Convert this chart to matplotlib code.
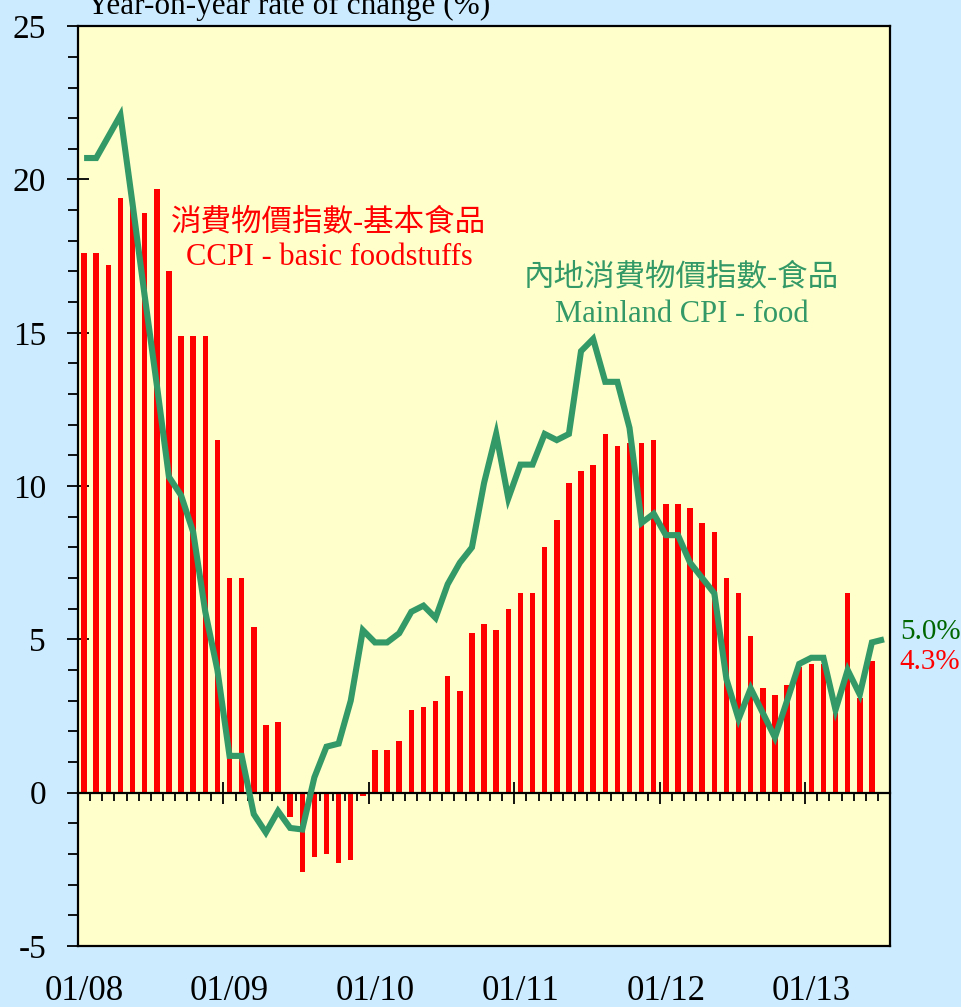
import numpy as np
import matplotlib
matplotlib.use("Agg")
import matplotlib.pyplot as plt
from matplotlib.ticker import MultipleLocator, FixedLocator

plt.rcParams['font.family'] = ['Liberation Serif', 'Noto Sans CJK TC']
plt.rcParams['axes.unicode_minus'] = False

# monthly data, Jan 2008 onwards
ccpi_food = [17.6, 17.6, 17.2, 19.4, 19.2, 18.9, 19.7, 17.0, 14.9, 14.9, 14.9, 11.5,
             7.0, 7.0, 5.4, 2.2, 2.3, -0.8, -2.6, -2.1, -2.0, -2.3, -2.2, -0.1,
             1.4, 1.4, 1.7, 2.7, 2.8, 3.0, 3.8, 3.3, 5.2, 5.5, 5.3, 6.0,
             6.5, 6.5, 8.0, 8.9, 10.1, 10.5, 10.7, 11.7, 11.3, 11.4, 11.4, 11.5,
             9.4, 9.4, 9.3, 8.8, 8.5, 7.0, 6.5, 5.1, 3.4, 3.2, 3.5, 4.1,
             4.2, 4.2, 2.6, 6.5, 3.1, 4.3]
mainland_food = [20.7, 20.7, 21.4, 22.1, 19.2, 16.2, 13.3, 10.3, 9.7, 8.5, 5.9, 4.0,
                 1.2, 1.2, -0.7, -1.3, -0.6, -1.15, -1.2, 0.5, 1.5, 1.6, 3.0, 5.3,
                 4.9, 4.9, 5.2, 5.9, 6.1, 5.7, 6.8, 7.5, 8.0, 10.1, 11.7, 9.6,
                 10.7, 10.7, 11.7, 11.5, 11.7, 14.4, 14.8, 13.4, 13.4, 11.9, 8.8, 9.1,
                 8.4, 8.4, 7.5, 7.0, 6.5, 3.7, 2.4, 3.4, 2.6, 1.8, 3.0, 4.2,
                 4.4, 4.4, 2.7, 4.0, 3.2, 4.9, 5.0]
year_labels = ['01/08', '01/09', '01/10', '01/11', '01/12', '01/13']

bg_fig = '#CCEBFF'
bg_ax = '#FFFFCC'
red = '#FF0000'
green = '#339966'

fig = plt.figure(figsize=(9.61, 10.07), dpi=100, facecolor=bg_fig)
ax = fig.add_axes([0.0812, 0.0606, 0.8450, 0.9134])
ax.set_facecolor(bg_ax)

x_bar = np.arange(len(ccpi_food))
x_line = np.arange(len(mainland_food))
ax.bar(x_bar, ccpi_food, width=0.45, color=red, zorder=2)
ax.plot(x_line, mainland_food, color=green, lw=4.4, zorder=4,
        solid_joinstyle='miter', solid_capstyle='butt')

ax.set_xlim(-0.5, 66.5)
ax.set_ylim(-5, 25)

# y axis
ax.yaxis.set_major_locator(MultipleLocator(5))
ax.yaxis.set_minor_locator(MultipleLocator(1))
ax.tick_params(axis='y', which='major', direction='inout', length=16, width=1.3,
               labelsize=24, pad=15)
ax.tick_params(axis='y', which='minor', direction='out', length=7.5, width=1.3)
ax.tick_params(axis='y', which='both', right=False)

# x labels at the bottom of the frame, no ticks there
ax.set_xticks(np.arange(0, 61, 12), labels=year_labels)
ax.tick_params(axis='x', which='both', length=0, labelsize=25, pad=21)
ax.xaxis.set_minor_locator(FixedLocator([]))

for s in ax.spines.values():
    s.set_linewidth(1.6)

# tick marks drawn on the zero line
sec = ax.secondary_xaxis(5 / 30)
sec.set_xticks(np.arange(11.5, 66, 12))
sec.xaxis.set_minor_locator(FixedLocator(np.arange(0.5, 66, 1)))
sec.tick_params(axis='x', which='major', direction='inout', length=16, width=1.3,
                labelbottom=False)
sec.tick_params(axis='x', which='minor', direction='out', length=5.5, width=1.3)
sec.spines['bottom'].set_linewidth(1.6)
sec.set_zorder(3)

fig.text(0.0905, 0.9865, 'Year-on-year rate of change (%)', fontsize=22.5,
         va='baseline', ha='left')

ax.text(20.2, 18.6, '消費物價指數-基本食品', color=red, fontsize=22,
        ha='center', va='center')
ax.text(20.2, 17.45, 'CCPI - basic foodstuffs', color=red, fontsize=22,
        ha='center', va='center')
ax.text(49.3, 16.8, '內地消費物價指數-食品', color=green, fontsize=22,
        ha='center', va='center')
ax.text(49.3, 15.6, 'Mainland CPI - food', color=green, fontsize=22,
        ha='center', va='center')

ax.text(67.3, 5.25, f'{mainland_food[-1]:.1f}%', color='#006600', fontsize=21,
        ha='left', va='center', clip_on=False)
ax.text(67.3, 4.25, f'{ccpi_food[-1]:.1f}%', color=red, fontsize=21,
        ha='left', va='center', clip_on=False)

fig.savefig('out.png', dpi=100, facecolor=bg_fig)
